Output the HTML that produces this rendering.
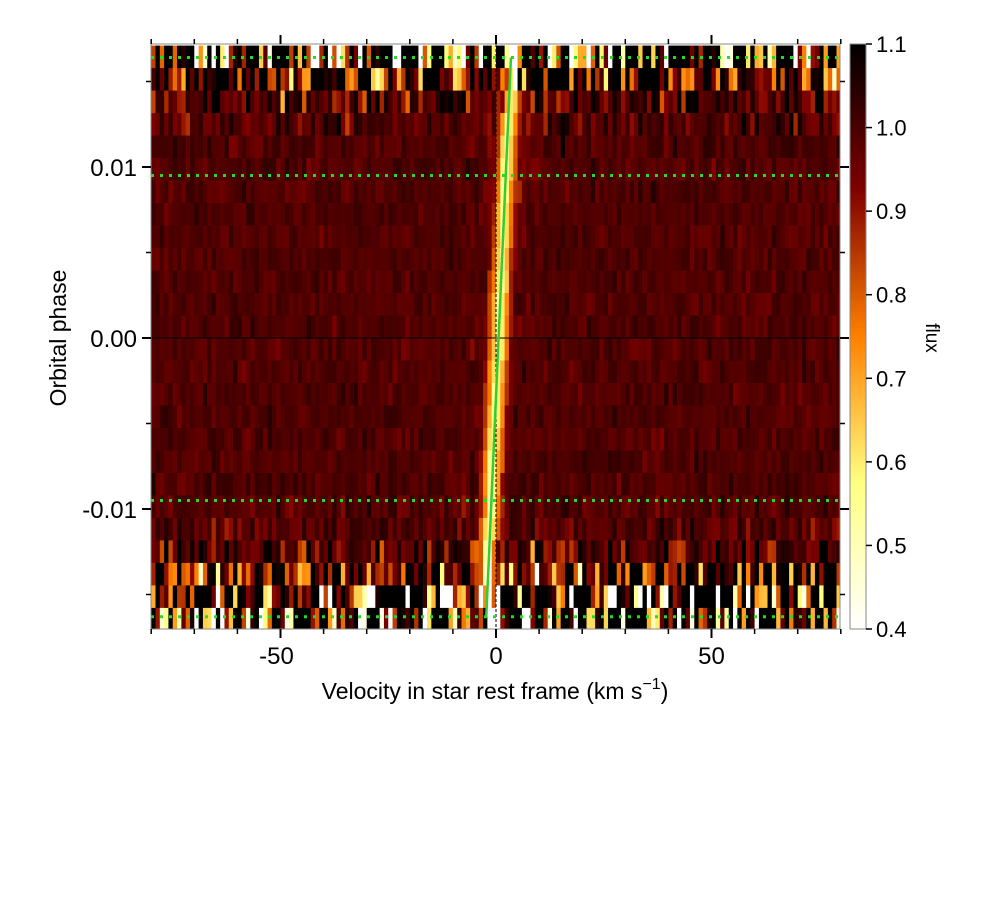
<!DOCTYPE html>
<html><head><meta charset="utf-8"><style>
html,body{margin:0;padding:0;background:#fff;width:1000px;height:900px;overflow:hidden}
svg{display:block}
text{font-family:"Liberation Sans",sans-serif;fill:#000}
</style></head><body>
<svg id="chart" width="1000" height="900" viewBox="0 0 1000 900" xmlns="http://www.w3.org/2000/svg">
<defs>
<linearGradient id="cbgrad" x1="0" y1="1" x2="0" y2="0">
<stop offset="0" stop-color="#ffffff"/><stop offset="0.25" stop-color="#ffff80"/>
<stop offset="0.5" stop-color="#ff8000"/><stop offset="0.75" stop-color="#800000"/>
<stop offset="1" stop-color="#000000"/></linearGradient>
<clipPath id="plotclip"><rect x="151" y="44" width="689" height="585"/></clipPath>
</defs>
<g id="heatmap" clip-path="url(#plotclip)"></g>
<g id="overlays" clip-path="url(#plotclip)"></g>
<rect x="151" y="44" width="689" height="585" fill="none" stroke="#888" stroke-width="1"/>
<g id="axes"></g>
<rect x="850" y="44" width="16" height="585" fill="url(#cbgrad)" stroke="#888" stroke-width="1"/>
<g id="cbticks"></g>
<text x="495" y="699" font-size="23" text-anchor="middle">Velocity in star rest frame (km s<tspan dy="-10" font-size="16">−1</tspan><tspan dy="10">)</tspan></text>
<text transform="translate(66,338) rotate(-90)" font-size="23" text-anchor="middle">Orbital phase</text>
<text transform="translate(926,338) rotate(90)" font-size="19" text-anchor="middle">flux</text>
</svg>
<script>
const NS='http://www.w3.org/2000/svg';
// data
const velocities=[];for(let v=-80;v<80;v+=1)velocities.push(v);
const rowNoise=[0.5,0.24,0.09,0.045,0.03,0.024,0.022,0.02,0.02,0.02,0.02,0.02,0.02,0.02,0.02,0.02,0.02,0.02,0.022,0.024,0.03,0.045,0.09,0.24,0.45,0.5];
const nRows=rowNoise.length;
const phaseMax=0.0171, phaseMin=-0.0171;
const lineOffset=0.6, lineSlope=175, lineDepth=0.44, lineWidth=1.5, baseFlux=0.99;
const markerPhases=[0.0164,0.0095,-0.0095,-0.0163];
const xTicks=[-50,0,50], yTicks=[0.01,0.0,-0.01], yTickLabels=['0.01','0.00','-0.01'];
const cbTicks=[0.4,0.5,0.6,0.7,0.8,0.9,1.0,1.1];
// axes
const X=v=>496+(v)*4.31, Y=p=>338-p*17100;
const CB=f=>629-(f-0.4)/0.7*585;
function cmap(f){let t=(f-0.4)/0.7;t=Math.max(0,Math.min(1,t));const x=1-t;
 const c=q=>Math.round(255*Math.max(0,Math.min(1,q)));return `rgb(${c(2*x)},${c(2*x-0.5)},${c(2*x-1)})`;}
let seed=12345;function rnd(){seed=(seed*1103515245+12345)%2147483648;return seed/2147483648;}
function gauss(){let u=rnd()||1e-9,v=rnd();return Math.sqrt(-2*Math.log(u))*Math.cos(2*Math.PI*v);}
const hm=document.getElementById('heatmap');
const rowH=(Y(phaseMin)-Y(phaseMax))/nRows;
for(let r=0;r<nRows;r++){
 const ph=phaseMax-(r+0.5)*(phaseMax-phaseMin)/nRows;
 const vc=lineOffset+lineSlope*ph;
 for(const v of velocities){
  const vm=v+0.5;
  let f=baseFlux+rowNoise[r]*gauss()-lineDepth*Math.exp(-0.5*((vm-vc)/lineWidth)**2);
  const el=document.createElementNS(NS,'rect');
  
  
  el.setAttribute('x',X(v));el.setAttribute('y',Y(phaseMax)+r*rowH);
  el.setAttribute('width',4.31+0.4);el.setAttribute('height',rowH+0.4);
  el.setAttribute('fill',cmap(f));hm.appendChild(el);
 }
}
const ov=document.getElementById('overlays');
function line(x1,y1,x2,y2,stroke,w,dash,name){const l=document.createElementNS(NS,'line');
 
 
 l.setAttribute('x1',x1);l.setAttribute('y1',y1);l.setAttribute('x2',x2);l.setAttribute('y2',y2);
 l.setAttribute('stroke',stroke);l.setAttribute('stroke-width',w);if(dash)l.setAttribute('stroke-dasharray',dash);return l;}
ov.appendChild(line(151,Y(0),840,Y(0),'#000',1,null,'zero-phase-line'));
ov.appendChild(line(X(0),44,X(0),629,'#000',1,'3,2','zero-velocity-line'));
for(const p of markerPhases){ov.appendChild(line(151,Y(p),840,Y(p),'#22dd22',3,'3,6','transit-contact-line'));}
ov.appendChild(line(X(lineOffset+lineSlope*-0.0163),Y(-0.0163),X(lineOffset+lineSlope*0.0164),Y(0.0164),'#33cc33',2.5,null,'planet-track-line'));
const ax=document.getElementById('axes');
for(let v=-80;v<=80;v+=10){const maj=v%50===0;const L=maj?9:5;
 ax.appendChild(line(X(v),629,X(v),629+L,'#000',maj?2:1.5,null,'x-tick'));
 ax.appendChild(line(X(v),44,X(v),44-L,'#000',maj?2:1.5,null,'x-tick-top'));}
xTicks.forEach(v=>{const t=document.createElementNS(NS,'text');
 
 
 t.setAttribute('x',X(v)-(v<0?4:0));t.setAttribute('y',664);t.setAttribute('font-size','24');t.setAttribute('text-anchor','middle');
 t.textContent=String(v);ax.appendChild(t);});
for(let k=-3;k<=3;k++){const p=k*0.005;const maj=k%2===0;const L=maj?9:5;
 ax.appendChild(line(151,Y(p),151-L,Y(p),'#000',maj?2:1.5,null,'y-tick'));
 ax.appendChild(line(840,Y(p),840+L,Y(p),'#000',maj?2:1.5,null,'y-tick-right'));}
yTicks.forEach((p,i)=>{const t=document.createElementNS(NS,'text');
 
 
 t.setAttribute('x',137);t.setAttribute('y',Y(p)+9);t.setAttribute('font-size','24');t.setAttribute('text-anchor','end');
 t.textContent=yTickLabels[i];ax.appendChild(t);});
const cb=document.getElementById('cbticks');
cbTicks.forEach(f=>{cb.appendChild(line(866,CB(f),872,CB(f),'#000',1.5,null,'colorbar-tick'));
 const t=document.createElementNS(NS,'text');
 
 
 t.setAttribute('x',876);t.setAttribute('y',CB(f)+8);t.setAttribute('font-size','22');
 t.textContent=f.toFixed(1);cb.appendChild(t);});
</script>
</body></html>
